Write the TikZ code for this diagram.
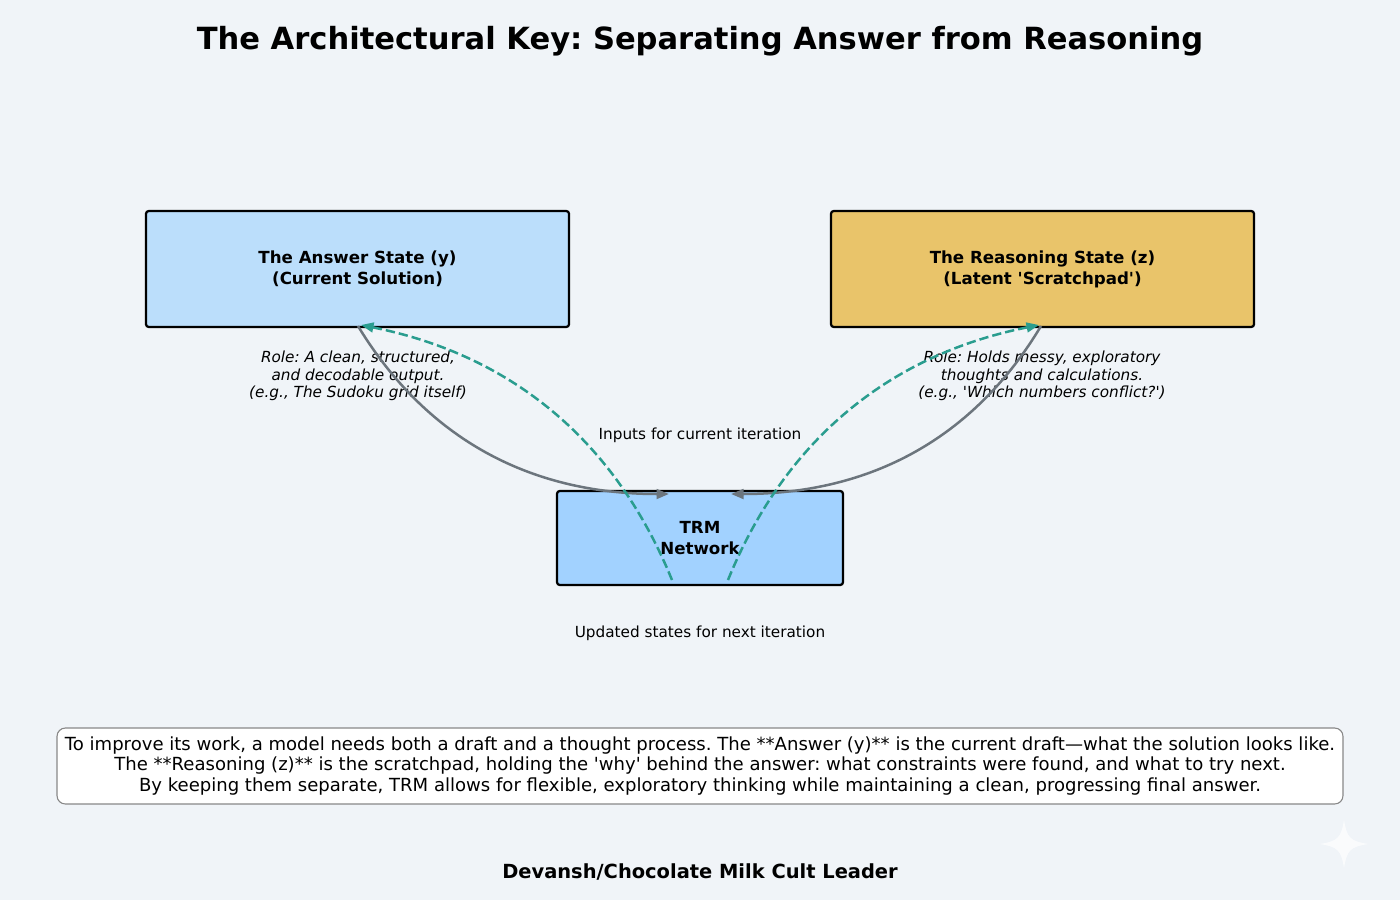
\documentclass[tikz,border=0pt]{standalone}
\usepackage{fontspec}
\setmainfont{DejaVu Sans}[Ligatures=TeXReset]
\usetikzlibrary{arrows.meta}
\frenchspacing
\definecolor{bgc}{HTML}{F0F4F8}
\definecolor{ansfill}{HTML}{BBDEFB}
\definecolor{reafill}{HTML}{E9C46A}
\definecolor{trmfill}{HTML}{A2D2FF}
\definecolor{flowgray}{HTML}{6C757D}
\definecolor{teal}{HTML}{2A9D8F}
\definecolor{noteborder}{HTML}{888888}
\tikzset{
  statebox/.style={draw=black, line width=1.6pt, rounded corners=2pt, inner sep=0pt, outer sep=0pt, align=center,
     font=\fontsize{12}{15.1}\selectfont\bfseries},
  roletext/.style={align=center, inner sep=0pt, font=\fontsize{11}{12.6}\selectfont\itshape},
  plainlabel/.style={align=center, inner sep=0pt, font=\fontsize{11}{13}\selectfont},
  inflow/.style={draw=flowgray, line width=1.8pt, -{Stealth[length=9pt,width=7pt,inset=0pt]}},
  outflow/.style={draw=teal, line width=1.8pt, dash pattern=on 6.7pt off 2.9pt, -{Stealth[length=9pt,width=7pt,inset=0pt]}},
}
\begin{document}
\begin{tikzpicture}[x=0.72pt, y=-0.72pt]
\fill[bgc] (0,0) rectangle (1400,900);
\useasboundingbox (0,0) rectangle (1400,900);

\node[inner sep=0pt, font=\fontsize{22}{26}\selectfont\bfseries] (title) at (700,41) {The Architectural Key: Separating Answer from Reasoning};

\node[statebox, fill=ansfill, minimum width=304.6pt, minimum height=83.5pt] (ans) at (357.5,269) {The Answer State (y)\\(Current Solution)};
\node[statebox, fill=reafill, minimum width=304.6pt, minimum height=83.5pt] (rea) at (1042.5,269) {The Reasoning State (z)\\(Latent 'Scratchpad')};
\node[statebox, fill=trmfill, minimum width=205.9pt, minimum height=67.7pt] (trm) at (700,538) {TRM\\Network};

\node[roletext] (ansrole) at (358,376) {Role: A clean, structured,\\and decodable output.\\(e.g., The Sudoku grid itself)};
\node[roletext] (rearole) at (1042,376) {Role: Holds messy, exploratory\\thoughts and calculations.\\(e.g., 'Which numbers conflict?')};

\node[plainlabel] (inlabel) at (700,435) {Inputs for current iteration};
\node[plainlabel] (outlabel) at (700,633) {Updated states for next iteration};

\coordinate (ansport) at (358,326);
\coordinate (reaport) at (1041,326);
\coordinate (ansin) at (361,325);
\coordinate (reain) at (1039,325);
\coordinate (trminL) at (669,494);
\coordinate (trminR) at (731,494);
\coordinate (trmoutL) at (672,580);
\coordinate (trmoutR) at (728,580);

\draw[inflow] (ansport) .. controls (426,438) and (529,494) .. (trminL);
\draw[inflow] (reaport) .. controls (974,438) and (871,494) .. (trminR);
\draw[outflow] (trmoutL) .. controls (615,440) and (511,355) .. (ansin);
\draw[outflow] (trmoutR) .. controls (785,440) and (889,355) .. (reain);

\node[draw=noteborder, line width=0.8pt, fill=white, rounded corners=6pt, minimum width=925.9pt, minimum height=54.7pt, inner sep=0pt, align=center,
  font=\fontsize{13}{15.1}\selectfont] (note) at (700,766)
  {To improve its work, a model needs both a draft and a thought process. The **Answer (y)** is the current draft—what the solution looks like.\\
   The **Reasoning (z)** is the scratchpad, holding the 'why' behind the answer: what constraints were found, and what to try next.\\
   By keeping them separate, TRM allows for flexible, exploratory thinking while maintaining a clean, progressing final answer.};

\node[inner sep=0pt, font=\fontsize{14}{17}\selectfont\bfseries] (footer) at (700,872) {Devansh/Chocolate Milk Cult Leader};

\fill[white, opacity=0.7] (1344,820) .. controls (1347,838) and (1350,841) .. (1368,844)
  .. controls (1350,847) and (1347,850) .. (1344,868)
  .. controls (1341,850) and (1338,847) .. (1320,844)
  .. controls (1338,841) and (1341,838) .. (1344,820) -- cycle;
\end{tikzpicture}
\end{document}
